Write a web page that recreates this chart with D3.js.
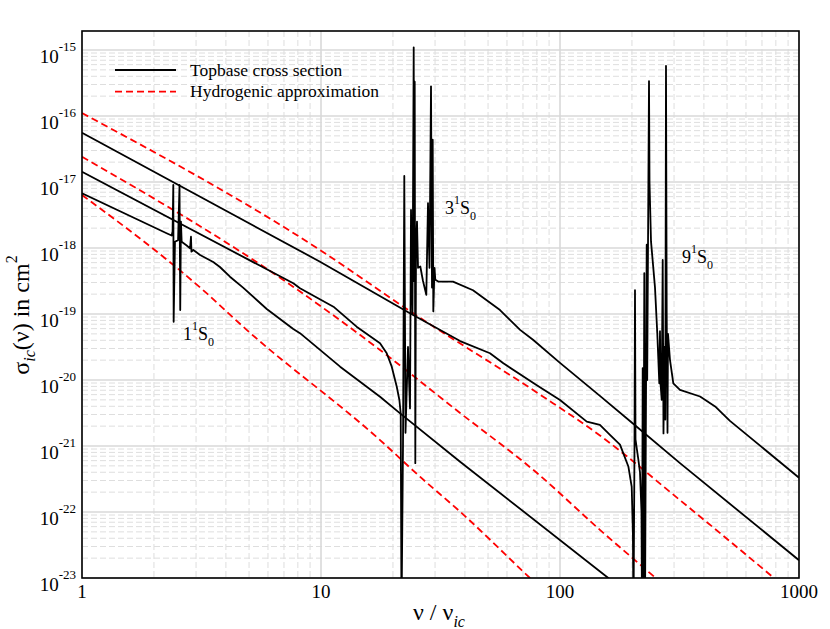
<!DOCTYPE html>
<meta charset="utf-8">
<style>
  body { margin: 0; background: #fff; }
  svg text { font-family: "Liberation Serif", "DejaVu Serif", serif; fill: #000; }
  .grid-major { stroke: #d9d9d9; stroke-width: 1.6; }
  .grid-minor { stroke: #dedede; stroke-width: 1; stroke-dasharray: 6,3; }
  .frame { fill: none; stroke: #000; stroke-width: 1.6; }
  .topbase { fill: none; stroke: #000; stroke-width: 1.8; stroke-linejoin: round; }
  .hydro { fill: none; stroke: #ff0000; stroke-width: 1.8; stroke-dasharray: 7,4; }
</style>
<body>
<script src="https://cdn.jsdelivr.net/npm/d3@7"></script>
<script>

// all pairs are [log10(nu/nu_ic), log10(sigma / cm^2)]
var topbase1S = [
  [0, -17.171], [0.354, -17.777], [0.375, -17.811], [0.379, -17.75], [0.382, -17.045],
  [0.3835, -19.117], [0.389, -17.905], [0.402, -17.88], [0.408, -17.045], [0.411, -18.939],
  [0.414, -17.6], [0.417, -17.905], [0.438, -17.962], [0.452, -18.005], [0.456, -17.829],
  [0.458, -18.056], [0.466, -18.03], [0.494, -18.106], [0.549, -18.212], [0.577, -18.288],
  [0.619, -18.435], [0.674, -18.60], [0.773, -18.924], [0.884, -19.227], [0.912, -19.29],
  [1.080, -19.798], [1.247, -20.253], [1.331, -20.505], [1.582, -21.238], [2.202, -23.0],
  [2.26, -23.17]
];

var topbase3S = [
  [0, -16.844], [0.884, -18.535], [0.912, -18.611], [1.052, -18.889], [1.149, -19.192],
  [1.247, -19.444], [1.275, -19.595], [1.296, -19.798], [1.317, -20.102], [1.328, -20.303],
  [1.3335, -20.505], [1.3368, -23.6], [1.3431, -21.0], [1.3485, -16.909], [1.3536, -20.8],
  [1.364, -19.5], [1.3724, -20.43], [1.3766, -17.424], [1.3828, -19.0], [1.3879, -14.96],
  [1.390, -18.5], [1.3921, -15.48], [1.3946, -21.26], [1.3975, -18.0], [1.4017, -17.6],
  [1.4059, -18.3], [1.4155, -18.28], [1.4268, -18.5], [1.4406, -18.71], [1.4477, -17.32],
  [1.454, -18.3], [1.4603, -15.55], [1.4644, -18.6], [1.4674, -16.36], [1.4699, -18.96],
  [1.4749, -18.3], [1.4782, -18.48], [1.4925, -18.51], [1.5523, -18.51], [1.636, -18.64],
  [1.749, -18.94], [1.833, -19.24], [1.887, -19.39], [2.0, -19.74], [2.167, -20.24],
  [2.305, -20.66], [2.502, -21.26], [3.0, -22.73]
];

var topbase9S = [
  [0, -16.253], [0.996, -18.208], [1.372, -18.99], [1.582, -19.41], [1.707, -19.595],
  [1.763, -19.747], [1.903, -20.08], [2.0, -20.303], [2.112, -20.63], [2.167, -20.68],
  [2.209, -20.83], [2.251, -20.98], [2.286, -21.31], [2.300, -21.62], [2.305, -22.3],
  [2.3075, -23.6], [2.3117, -21.0], [2.3138, -18.64], [2.3159, -20.9], [2.3276, -21.2],
  [2.3347, -21.4], [2.341, -22.0], [2.3431, -23.6], [2.346, -19.82], [2.3485, -23.6],
  [2.3527, -18.38], [2.3556, -23.6], [2.3628, -17.95], [2.3649, -20.0], [2.3724, -15.47],
  [2.3745, -17.0], [2.3808, -17.9], [2.3975, -18.6], [2.4071, -19.3], [2.4155, -20.05],
  [2.4184, -19.26], [2.4205, -20.05], [2.4255, -20.3], [2.4297, -18.18], [2.433, -20.81],
  [2.4372, -19.5], [2.4406, -20.6], [2.4435, -15.24], [2.4464, -19.0], [2.4498, -20.8],
  [2.4519, -19.3], [2.4603, -19.7], [2.4741, -20.05], [2.502, -20.15], [2.586, -20.25],
  [2.649, -20.40], [2.711, -20.62], [3.0, -21.48]
];

var hydro1S = [
  [0, -17.197], [0.506, -18.636], [0.689, -19.24], [1.247, -20.91], [1.414, -21.465],
  [1.582, -21.995], [1.874, -23.0], [1.95, -23.26]
];

var hydro3S = [
  [0, -16.617], [0.883, -18.586], [1.247, -19.545], [1.582, -20.50], [1.904, -21.41],
  [2.167, -22.27], [2.40, -23.0], [2.46, -23.19]
];

var hydro9S = [
  [0, -15.955], [0.996, -18.03], [1.386, -18.99], [1.916, -20.22], [2.167, -20.84],
  [2.502, -21.82], [2.895, -23.0], [3.0, -23.32]
];

var xTickValues = [1, 10, 100, 1000];
var yTickExponents = [-23, -22, -21, -20, -19, -18, -17, -16, -15];
var legendLabels = ["Topbase cross section", "Hydrogenic approximation"];
var levelNames = ["1", "3", "9"];

var margin = {top: 31, right: 31, bottom: 51, left: 82},
    width = 830 - margin.left - margin.right,
    height = 629 - margin.top - margin.bottom;

var svg = d3.select("body").append("svg")
    .attr("width", 830)
    .attr("height", 629)
    .attr("font-family", "Liberation Serif, DejaVu Serif, serif");

var g = svg.append("g")
    .attr("transform", "translate(" + margin.left + "," + margin.top + ")");

var x = d3.scaleLog().domain([1, 1000]).range([0, width]);
var y = d3.scaleLog().domain([1e-23, Math.pow(10, -14.712)]).range([height, 0]);

g.append("clipPath").attr("id", "clip")
  .append("rect").attr("width", width).attr("height", height);

// grid
var xMinor = [], yMinor = [];
for (var k = 0; k < 3; k++)
  for (var m = 2; m < 10; m++) xMinor.push(m * Math.pow(10, k));
yTickExponents.forEach(function(e) {
  for (var m = 2; m < 10; m++) {
    var v = m * Math.pow(10, e);
    if (v < y.domain()[1]) yMinor.push(v);
  }
});

var grid = g.append("g");
grid.selectAll(".gxm").data(xMinor).enter().append("line")
    .attr("class", "grid-minor")
    .attr("x1", function(d) { return x(d); }).attr("x2", function(d) { return x(d); })
    .attr("y1", 0).attr("y2", height);
grid.selectAll(".gym").data(yMinor).enter().append("line")
    .attr("class", "grid-minor")
    .attr("y1", function(d) { return y(d); }).attr("y2", function(d) { return y(d); })
    .attr("x1", 0).attr("x2", width);
grid.selectAll(".gxM").data(xTickValues).enter().append("line")
    .attr("class", "grid-major")
    .attr("x1", function(d) { return x(d); }).attr("x2", function(d) { return x(d); })
    .attr("y1", 0).attr("y2", height);
grid.selectAll(".gyM").data(yTickExponents).enter().append("line")
    .attr("class", "grid-major")
    .attr("y1", function(d) { return y(Math.pow(10, d)); }).attr("y2", function(d) { return y(Math.pow(10, d)); })
    .attr("x1", 0).attr("x2", width);

// curves
var line = d3.line()
    .x(function(d) { return x(Math.pow(10, d[0])); })
    .y(function(d) { return y(Math.pow(10, d[1])); });
var smooth = d3.line()
    .curve(d3.curveMonotoneX)
    .x(function(d) { return x(Math.pow(10, d[0])); })
    .y(function(d) { return y(Math.pow(10, d[1])); });

var plot = g.append("g").attr("clip-path", "url(#clip)");
[hydro1S, hydro3S, hydro9S].forEach(function(s) {
  plot.append("path").datum(s).attr("class", "hydro").attr("d", smooth);
});
[topbase1S, topbase3S, topbase9S].forEach(function(s) {
  plot.append("path").datum(s).attr("class", "topbase").attr("d", line);
});

g.append("rect").attr("class", "frame").attr("width", width).attr("height", height);

// tick labels
g.selectAll(".xt").data(xTickValues).enter().append("text")
    .attr("x", function(d) { return x(d); })
    .attr("y", height + 20)
    .attr("text-anchor", "middle")
    .style("font-size", "19px")
    .text(function(d) { return d; });

var yt = g.selectAll(".yt").data(yTickExponents).enter().append("text")
    .attr("x", -6)
    .attr("y", function(d) { return y(Math.pow(10, d)) + 12.5; })
    .attr("text-anchor", "end")
    .style("font-size", "19px");
yt.append("tspan").text("10");
yt.append("tspan").attr("dy", -11.5).style("font-size", "13px")
    .text(function(d) { return "-" + Math.abs(d); });

// axis titles
var xt = svg.append("text").attr("x", 413).attr("y", 620).style("font-size", "24px");
xt.append("tspan").text("\u03bd / \u03bd");
xt.append("tspan").attr("dy", 7).style("font-size", "16px").style("font-style", "italic").text("ic");

var ytl = svg.append("text")
    .attr("transform", "translate(29,315) rotate(-90)")
    .attr("text-anchor", "middle")
    .style("font-size", "24px");
ytl.append("tspan").text("\u03c3");
ytl.append("tspan").attr("dy", 6).style("font-size", "16px").style("font-style", "italic").text("ic");
ytl.append("tspan").attr("dy", -6).text("(\u03bd) in cm");
ytl.append("tspan").attr("dy", -12).style("font-size", "16px").text("2");

// legend
var legend = svg.append("g");
legend.append("line").attr("class", "topbase")
    .attr("x1", 115).attr("x2", 176).attr("y1", 70).attr("y2", 70);
legend.append("line").attr("class", "hydro")
    .attr("x1", 115).attr("x2", 176).attr("y1", 91.7).attr("y2", 91.7);
legend.selectAll(".lt").data(legendLabels).enter().append("text")
    .attr("x", 190)
    .attr("y", function(d, i) { return 75.5 + i * 21.7; })
    .style("font-size", "17.5px")
    .text(function(d) { return d; });

// level labels
var levelPos = [[183, 340], [445, 214], [682, 263]];
levelNames.forEach(function(n, i) {
  var t = svg.append("text")
      .attr("x", levelPos[i][0]).attr("y", levelPos[i][1])
      .style("font-size", "18px");
  t.append("tspan").text(n);
  t.append("tspan").attr("dy", -10).style("font-size", "12px").text("1");
  t.append("tspan").attr("dy", 10).text("S");
  t.append("tspan").attr("dy", 6).style("font-size", "12px").text("0");
});

</script>
</body>
